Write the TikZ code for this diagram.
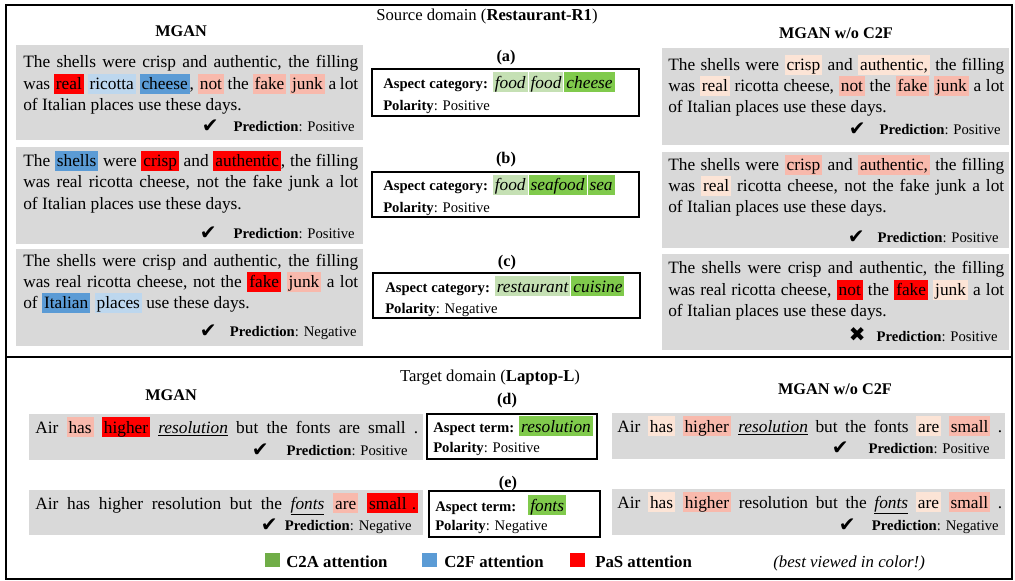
\documentclass[tikz,border=0pt]{standalone}
\usepackage{fontspec}
\setmainfont{Liberation Serif}
\newfontfamily\symfont{DejaVu Sans}
\usetikzlibrary{positioning}
\definecolor{BoxGray}{RGB}{217,217,217}
\definecolor{PaSRed}{RGB}{255,0,0}
\definecolor{PaSMid}{RGB}{248,185,172}
\definecolor{PaSLow}{RGB}{252,228,214}
\definecolor{CtfHigh}{RGB}{91,155,213}
\definecolor{CtfLow}{RGB}{189,215,238}
\definecolor{CtaHigh}{RGB}{128,202,76}
\definecolor{CtaLow}{RGB}{197,224,180}
\definecolor{LegGreen}{RGB}{112,173,71}

% highlighted word
\newcommand\hlw[2]{{\setlength\fboxsep{0pt}\colorbox{#1}{\rule[-3pt]{0pt}{15pt}\hspace{1.5pt}#2\hspace{1.5pt}}}}
% highlighted aspect word
\newcommand\asw[2]{\hlw{#1}{\fontsize{13}{15}\selectfont\itshape #2}}

\begin{document}
\begin{tikzpicture}[x=0.75pt,y=-0.75pt,
    frame/.style={line width=1.6pt},
    aspbox/.style={draw,line width=0.8pt,fill=white},
    txt/.style={anchor=base west,inner sep=0pt,font=\fontsize{13}{15}\selectfont},
    head/.style={anchor=base,inner sep=0pt,font=\fontsize{12.5}{14}\selectfont},
    title/.style={anchor=base,inner sep=0pt,font=\bfseries\fontsize{12.2}{14}\selectfont},
    pred/.style={anchor=base east,inner sep=0pt,font=\fontsize{11}{13}\selectfont},
    chk/.style={anchor=base east,inner sep=0pt,font=\symfont\fontsize{15}{16}\selectfont},
    asp/.style={anchor=base west,inner sep=0pt,font=\fontsize{11}{13}\selectfont},
    legsq/.style={minimum size=11pt,inner sep=0pt},
    legtxt/.style={anchor=base west,inner sep=0pt,font=\bfseries\fontsize{12.6}{14}\selectfont}
  ]
    \useasboundingbox (0,0) rectangle (1015,581);
    \fill[white] (0,0) rectangle (1015,581);

    % frames
    \draw[frame] (6,5) rectangle (1012,579);
    \draw[frame] (6,357) -- (1012,357);

    % source domain
    \node[head] (src) at (487,21) {Source domain (\textbf{Restaurant-R1})};
    \node[title] (mganA) at (181,37) {MGAN};
    \node[title] (woA) at (836,39) {MGAN w/o C2F};

    \fill[BoxGray] (16,45) rectangle (363,140);
    \fill[BoxGray] (16,147) rectangle (363,244);
    \fill[BoxGray] (16,249) rectangle (363,346);
    \fill[BoxGray] (662,48) rectangle (1009,145);
    \fill[BoxGray] (662,152) rectangle (1009,248);
    \fill[BoxGray] (662,254) rectangle (1009,350);

    % MGAN, restaurant
    \node[txt] (l1a) at (23,68) {\makebox[251.25pt][s]{The shells were crisp and authentic, the filling}};
    \node[txt] (l1b) at (23,90) {\makebox[251.25pt][s]{was \hlw{PaSRed}{real} \hlw{CtfLow}{ricotta} \hlw{CtfHigh}{cheese}, \hlw{PaSMid}{not} the \hlw{PaSMid}{fake} \hlw{PaSMid}{junk} a lot}};
    \node[txt] (l1c) at (23,111) {of Italian places use these days.};
    \node[pred] (l1p) at (355,132) {\textbf{Prediction}: Positive};
    \node[chk] (l1k) at (219,133) {✔};

    \node[txt] (l2a) at (23,167) {\makebox[251.25pt][s]{The \hlw{CtfHigh}{shells} were \hlw{PaSRed}{crisp} and \hlw{PaSRed}{authentic}, the filling}};
    \node[txt] (l2b) at (23,188) {\makebox[251.25pt][s]{was real ricotta cheese, not the fake junk a lot}};
    \node[txt] (l2c) at (23,210) {of Italian places use these days.};
    \node[pred] (l2p) at (355,239) {\textbf{Prediction}: Positive};
    \node[chk] (l2k) at (217,240) {✔};

    \node[txt] (l3a) at (23,267) {\makebox[251.25pt][s]{The shells were crisp and authentic, the filling}};
    \node[txt] (l3b) at (23,288) {\makebox[251.25pt][s]{was real ricotta cheese, not the \hlw{PaSRed}{fake} \hlw{PaSMid}{junk} a lot}};
    \node[txt] (l3c) at (23,309) {of \hlw{CtfHigh}{Italian} \hlw{CtfLow}{places} use these days.};
    \node[pred] (l3p) at (357,337) {\textbf{Prediction}: Negative};
    \node[chk] (l3k) at (217,338) {✔};

    % aspect categories
    \node[title] (la) at (506,62) {(a)};
    \draw[aspbox] (372,69) rectangle (639,116);
    \node[asp] (cata) at (383,88.5) {\textbf{Aspect category:} \asw{CtaLow}{food}\hspace{0.75pt}\asw{CtaLow}{food}\hspace{0.75pt}\asw{CtaHigh}{cheese}};
    \node[asp] (pola) at (383,111) {\textbf{Polarity}: Positive};

    \node[title] (lb) at (506,164) {(b)};
    \draw[aspbox] (372,172) rectangle (639,217);
    \node[asp] (catb) at (383,191) {\textbf{Aspect category:} \asw{CtaLow}{food}\hspace{0.75pt}\asw{CtaHigh}{seafood}\hspace{0.75pt}\asw{CtaHigh}{sea}};
    \node[asp] (polb) at (383,213) {\textbf{Polarity}: Positive};

    \node[title] (lc) at (507,267) {(c)};
    \draw[aspbox] (373,273) rectangle (640,318);
    \node[asp] (catc) at (385,292) {\textbf{Aspect category:} \asw{CtaLow}{restaurant}\hspace{0.75pt}\asw{CtaHigh}{cuisine}};
    \node[asp] (polc) at (385,314) {\textbf{Polarity}: Negative};

    % MGAN w/o C2F, restaurant
    \node[txt] (r1a) at (668,71) {\makebox[252pt][s]{The shells were \hlw{PaSLow}{crisp} and \hlw{PaSLow}{authentic,} the filling}};
    \node[txt] (r1b) at (668,92) {\makebox[252pt][s]{was \hlw{PaSLow}{real} ricotta cheese, \hlw{PaSMid}{not} the \hlw{PaSMid}{fake} \hlw{PaSMid}{junk} a lot}};
    \node[txt] (r1c) at (668,113) {of Italian places use these days.};
    \node[pred] (r1p) at (1001,135) {\textbf{Prediction}: Positive};
    \node[chk] (r1k) at (866,136) {✔};

    \node[txt] (r2a) at (668,171) {\makebox[252pt][s]{The shells were \hlw{PaSMid}{crisp} and \hlw{PaSMid}{authentic,} the filling}};
    \node[txt] (r2b) at (668,192) {\makebox[252pt][s]{was \hlw{PaSLow}{real} ricotta cheese, not the fake junk a lot}};
    \node[txt] (r2c) at (668,213) {of Italian places use these days.};
    \node[pred] (r2p) at (999,243) {\textbf{Prediction}: Positive};
    \node[chk] (r2k) at (865,244) {✔};

    \node[txt] (r3a) at (668,274) {\makebox[252pt][s]{The shells were crisp and authentic, the filling}};
    \node[txt] (r3b) at (668,296) {\makebox[252pt][s]{was real ricotta cheese, \hlw{PaSRed}{not} the \hlw{PaSRed}{fake} \hlw{PaSLow}{junk} a lot}};
    \node[txt] (r3c) at (668,317) {of Italian places use these days.};
    \node[pred] (r3p) at (998,341) {\textbf{Prediction}: Positive};
    \node[chk] (r3k) at (866,342) {✖};

    % target domain
    \node[head] (tgt) at (490,382) {Target domain (\textbf{Laptop-L})};
    \node[title] (mganB) at (171,400) {MGAN};
    \node[title] (woB) at (835,394) {MGAN w/o C2F};

    \fill[BoxGray] (29,414) rectangle (423,460);
    \fill[BoxGray] (29,490) rectangle (423,535);
    \fill[BoxGray] (612,413) rectangle (1005,459);
    \fill[BoxGray] (612,489) rectangle (1005,535);

    \node[txt] (ld) at (35,433) {\makebox[287.25pt][s]{Air \hlw{PaSMid}{has} \hlw{PaSRed}{higher} \underline{\textit{resolution}} but the fonts are small .}};
    \node[pred] (ldp) at (408,455) {\textbf{Prediction}: Positive};
    \node[chk] (ldk) at (269,456) {✔};

    \node[txt] (le) at (35,509) {\makebox[287.25pt][s]{Air has higher resolution but the \underline{\textit{fonts}} \hlw{PaSMid}{are} \hlw{PaSRed}{small\hspace{4pt}.}}};
    \node[pred] (lep) at (412,530) {\textbf{Prediction}: Negative};
    \node[chk] (lek) at (278,531) {✔};

    \node[title] (lblD) at (507,404) {(d)};
    \draw[aspbox] (427,414) rectangle (597,459);
    \node[asp] (termd) at (433,432) {\textbf{Aspect term:} \asw{CtaHigh}{resolution}};
    \node[asp] (pold) at (433,452) {\textbf{Polarity}: Positive};

    \node[title] (lblE) at (508,487) {(e)};
    \draw[aspbox] (429,491) rectangle (600,537);
    \node[asp] (terme) at (435,511) {\textbf{Aspect term:}\hspace{9pt}\asw{CtaHigh}{fonts}};
    \node[asp] (pole) at (435,530) {\textbf{Polarity}: Negative};

    \node[txt] (rd) at (617,432) {\makebox[288.75pt][s]{Air \hlw{PaSLow}{has} \hlw{PaSMid}{higher} \underline{\textit{resolution}} but the fonts \hlw{PaSLow}{are} \hlw{PaSMid}{small} .}};
    \node[pred] (rdp) at (990,453) {\textbf{Prediction}: Positive};
    \node[chk] (rdk) at (849,454) {✔};

    \node[txt] (re) at (617,508) {\makebox[288.75pt][s]{Air \hlw{PaSLow}{has} \hlw{PaSMid}{higher} resolution but the \underline{\textit{fonts}} \hlw{PaSLow}{are} \hlw{PaSMid}{small} .}};
    \node[pred] (rep) at (999,530) {\textbf{Prediction}: Negative};
    \node[chk] (rek) at (856,531) {✔};

    % legend
    \node[legsq,fill=LegGreen] (sqa) at (272.5,560) {};
    \node[legtxt] (lga) at (286,567) {C2A attention};
    \node[legsq,fill=CtfHigh] (sqf) at (429.5,560) {};
    \node[legtxt] (lgf) at (444,567) {C2F attention};
    \node[legsq,fill=PaSRed] (sqp) at (577.5,560) {};
    \node[legtxt] (lgp) at (595,567) {PaS attention};
    \node[anchor=base west,inner sep=0pt,font=\itshape\fontsize{12.6}{14}\selectfont] (note) at (773,567) {(best viewed in color!)};
  \end{tikzpicture}
\end{document}
